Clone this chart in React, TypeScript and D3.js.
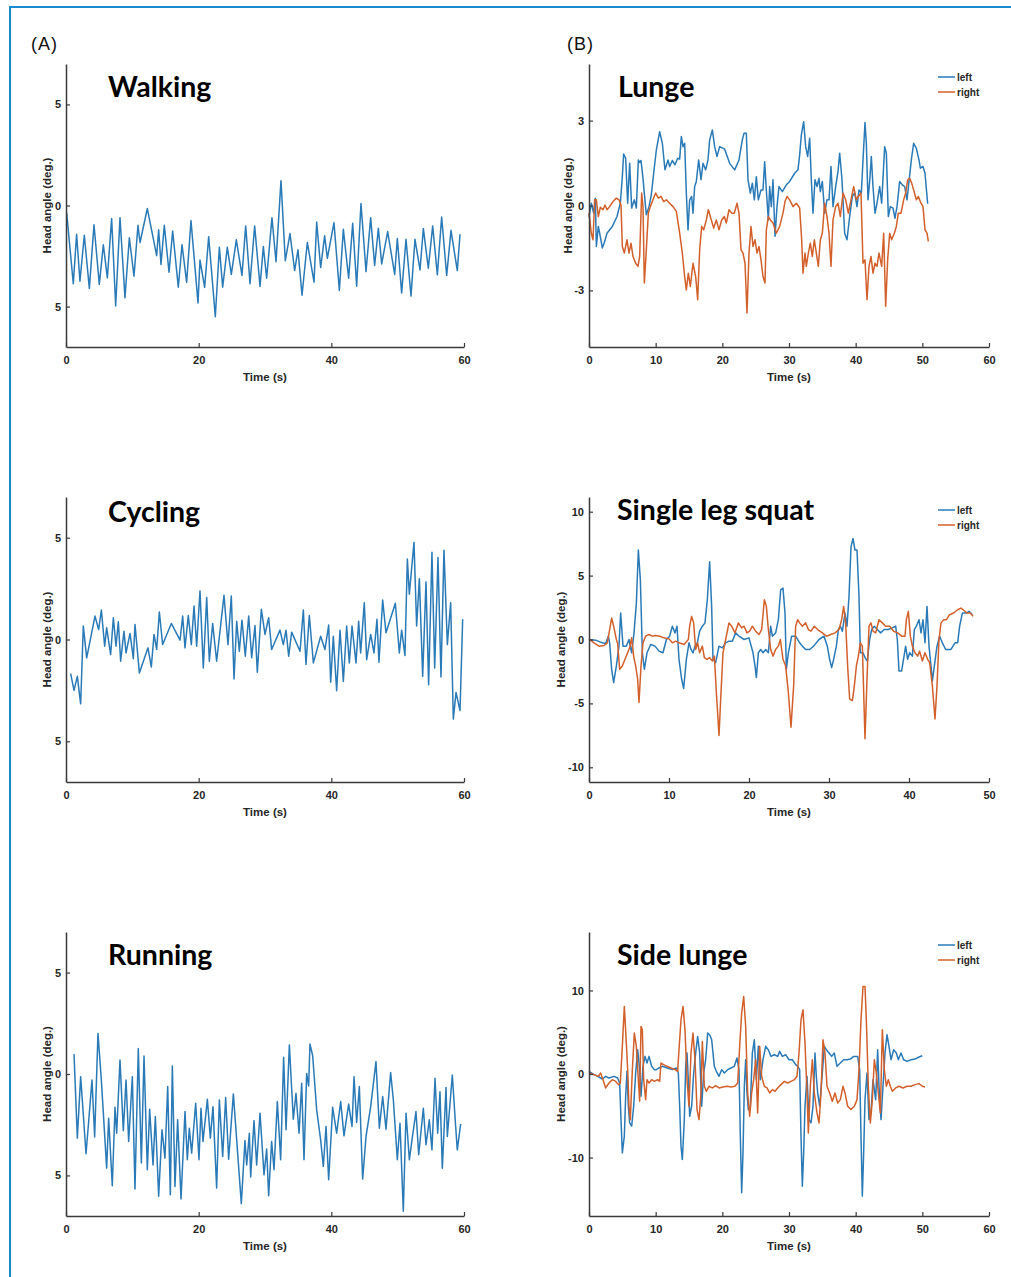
import React, { useEffect, useRef } from 'react';
import * as d3 from 'd3';

type Pt = [number, number];

// Head angle traces, [time (s), angle (deg.)]
const walking: Pt[] = [
  [0.1, -0.36], [1.1, -3.87], [1.6, -1.42], [2.1, -3.75], [2.76, -1.47], [3.52, -4.1], [4.22, -0.95], [5.02, -3.9],
  [5.63, -1.94], [6.23, -3.58], [6.88, -0.64], [7.49, -4.97], [8.14, -0.6], [8.89, -4.56], [9.55, -1.6], [10.25, -3.5],
  [10.85, -0.98], [11.16, -1.83], [12.26, -0.15], [13.67, -2.48], [13.97, -1.2], [14.32, -2.92], [14.82, -0.98],
  [15.53, -3.3], [16.08, -1.26], [16.93, -4.04], [17.49, -1.94], [18.19, -3.8], [18.84, -0.74], [19.9, -4.82],
  [20.2, -2.7], [20.9, -4.05], [21.51, -1.54], [22.51, -5.5], [23.12, -2.07], [23.62, -4.04], [24.32, -2.07],
  [24.92, -3.41], [25.68, -1.7], [26.53, -3.46], [27.09, -1.01], [27.74, -3.87], [28.44, -1.01], [29.25, -4.0],
  [29.75, -2.03], [30.25, -3.6], [31.05, -0.6], [31.66, -2.78], [32.41, 1.23], [33.06, -2.73], [33.77, -1.39],
  [34.47, -3.22], [34.97, -2.19], [35.58, -4.44], [36.38, -1.83], [37.39, -3.79], [37.79, -0.82], [38.39, -3.07],
  [38.99, -1.5], [39.4, -2.61], [40.4, -0.85], [41.21, -4.2], [41.81, -1.18], [42.61, -3.6], [43.22, -0.88],
  [43.82, -3.99], [44.47, 0.1], [45.23, -3.27], [45.93, -0.6], [46.53, -2.97], [47.09, -1.13], [47.59, -2.89],
  [48.49, -1.29], [49.55, -3.41], [49.95, -1.63], [50.6, -4.33], [51.26, -1.67], [52.01, -4.48], [52.61, -1.67],
  [53.37, -3.19], [53.87, -1.14], [54.62, -3.1], [55.28, -1.01], [55.98, -3.43], [56.63, -0.57], [57.39, -3.46],
  [58.04, -1.23], [58.99, -3.22], [59.4, -1.42],
];

const cycling: Pt[] = [
  [0.7, -1.68], [1.21, -2.5], [1.71, -1.81], [2.21, -3.16], [2.61, 0.66], [3.12, -0.9], [4.37, 1.15], [4.92, 0.49],
  [5.33, 1.45], [5.83, -0.33], [6.13, 0.58], [6.73, -0.74], [7.14, 1.07], [7.54, -0.33], [7.89, 0.87], [8.24, -1.07],
  [8.74, 0.41], [9.05, -0.66], [9.65, 0.3], [10.15, -0.94], [10.4, 0.74], [11.06, -1.64], [12.36, -0.41],
  [12.86, -1.35], [13.27, 0.25], [13.67, -0.49], [14.07, 1.35], [14.57, -0.25], [15.88, 0.79], [17.19, -0.03],
  [17.59, 1.15], [17.94, -0.41], [18.44, 1.18], [18.89, -0.25], [19.3, 1.64], [19.7, -0.33], [20.2, 2.38],
  [20.7, -1.4], [21.21, 2.06], [21.61, -1.07], [22.11, 0.79], [22.71, -1.07], [23.82, 2.17], [24.42, -0.25],
  [24.92, 2.14], [25.33, -1.94], [25.73, 0.9], [26.13, -0.58], [26.53, 0.95], [27.03, -0.82], [27.54, 1.15],
  [27.99, -0.9], [28.49, 0.69], [28.84, -1.61], [29.45, 1.48], [30.0, 0.25], [30.55, 1.07], [31.0, -0.49],
  [32.26, 0.46], [32.76, -0.25], [33.17, 0.46], [33.57, -0.82], [34.02, 0.36], [35.28, -0.58], [35.78, 1.45],
  [36.18, -1.23], [36.68, 1.18], [37.29, -1.15], [38.39, 0.16], [39.04, -0.49], [39.6, 0.71], [39.9, -2.1],
  [40.3, 0.16], [40.8, -2.52], [41.31, 0.46], [41.81, -2.06], [42.31, 0.66], [42.71, -1.15], [43.12, 0.66],
  [43.72, -1.15], [44.12, 0.9], [44.42, -0.66], [44.97, 1.81], [45.33, -0.99], [45.93, 0.25], [46.43, -0.66],
  [46.88, 0.99], [47.18, -1.12], [47.74, 1.94], [48.24, 0.33], [49.65, 1.78], [50.25, -0.66], [50.6, 0.46],
  [51.1, -0.79], [51.46, 3.95], [51.76, 2.22], [52.46, 4.77], [52.86, 0.66], [53.27, 2.99], [53.77, -1.81],
  [54.27, 2.83], [54.67, -2.22], [55.17, 4.28], [55.58, -1.4], [56.08, 4.03], [56.53, -1.84], [56.98, 4.39],
  [57.49, -0.25], [57.99, 1.81], [58.39, -3.91], [58.8, -2.6], [59.4, -3.49], [59.8, 0.99],
];

const running: Pt[] = [
  [1.21, 0.98], [1.71, -3.16], [2.21, -0.13], [3.02, -3.93], [3.92, -0.3], [4.32, -3.11], [4.82, 2.0], [5.33, -0.3],
  [6.13, -4.64], [6.43, -2.18], [6.98, -5.51], [7.39, -1.64], [7.64, -2.92], [8.14, 0.69], [8.64, -2.79],
  [9.05, -0.3], [9.45, -3.33], [10.0, -0.13], [10.4, -5.67], [10.9, 1.26], [11.36, -4.39], [11.76, 0.89],
  [12.26, -4.72], [12.61, -1.74], [13.12, -4.48], [13.47, -2.1], [13.97, -6.03], [14.47, -2.75], [14.92, -4.15],
  [15.33, -0.62], [15.73, -5.95], [16.03, 0.39], [16.43, -5.54], [16.83, -2.26], [17.34, -6.16], [17.94, -1.85],
  [18.29, -4.23], [18.59, -2.67], [18.94, -3.9], [19.55, -1.44], [20.05, -4.23], [20.35, -1.69], [20.65, -3.33],
  [21.31, -1.25], [21.76, -3.16], [22.16, -1.61], [22.71, -5.62], [23.12, -1.28], [23.62, -4.07], [24.07, -1.16],
  [24.52, -4.2], [25.23, -0.98], [26.43, -6.39], [26.98, -3.28], [27.24, -4.48], [27.64, -2.92], [27.84, -5.08],
  [28.34, -2.3], [28.74, -4.48], [29.25, -1.93], [29.85, -4.97], [30.25, -3.7], [30.55, -6.0], [31.0, -3.33],
  [31.36, -4.72], [31.86, -1.36], [32.36, -4.23], [32.81, 0.82], [33.17, -2.75], [33.67, 1.43], [34.27, -2.23],
  [34.67, -0.95], [35.13, -2.92], [35.53, -0.46], [35.88, -4.23], [36.28, 0.03], [36.58, -0.59], [36.78, 1.48],
  [37.19, 0.89], [37.79, -1.77], [38.39, -3.25], [38.79, -4.56], [39.2, -2.59], [39.6, -5.21], [40.2, -1.64],
  [40.8, -2.92], [41.41, -1.36], [41.91, -3.05], [42.61, -1.48], [43.12, -2.59], [43.42, -0.13], [43.82, -2.39],
  [44.22, -0.62], [44.72, -5.18], [45.23, -3.08], [45.93, -1.61], [46.73, 0.61], [47.24, -2.67], [47.74, -1.11],
  [48.24, -2.72], [48.94, 0.07], [49.35, -1.28], [49.95, -4.23], [50.35, -2.43], [50.85, -6.77], [51.26, -1.93],
  [51.76, -4.23], [52.16, -3.25], [52.76, -1.85], [53.17, -3.98], [53.87, -1.69], [54.27, -3.49], [54.77, -2.26],
  [55.17, -3.74], [55.63, -0.21], [56.03, -2.92], [56.38, -0.87], [56.73, -4.64], [57.29, -0.66], [57.49, -3.08],
  [58.24, -0.05], [58.69, -2.34], [58.99, -3.74], [59.5, -2.46],
];

const lungeLeft: Pt[] = [
  [0, -0.39], [0.35, 0.08], [0.7, -0.27], [0.95, 0.26], [1.1, -1.45], [1.4, -0.74], [1.6, -0.98], [2.0, -1.5],
  [2.35, -1.27], [2.7, -0.98], [3.5, -0.74], [4.2, -0.39], [4.7, 0.08], [5.0, 1.02], [5.2, 1.82], [5.5, 1.67],
  [5.8, 0.08], [6.1, 1.49], [6.4, -0.09], [6.8, 0.2], [7.1, -0.09], [7.4, 1.61], [7.6, 1.52], [7.8, 1.59],
  [8.1, 0.96], [8.25, 0.55], [8.6, -0.33], [9.0, -0.04], [9.35, 0.38], [9.7, 1.14], [10.1, 1.96], [10.6, 2.61],
  [11.0, 2.2], [11.4, 1.26], [11.85, 1.61], [12.1, 1.38], [12.5, 1.59], [12.9, 1.44], [13.3, 1.67], [13.6, 1.64],
  [13.85, 2.44], [14.1, 2.08], [14.35, 2.2], [14.6, 0.44], [14.85, -0.86], [15.1, 0.2], [15.4, 0.32], [15.6, -0.27],
  [15.85, 0.67], [16.1, 0.85], [16.45, 1.61], [16.8, 0.91], [17.1, 1.49], [17.5, 1.26], [17.85, 1.61], [18.1, 2.32],
  [18.5, 2.67], [18.85, 2.08], [19.2, 1.73], [19.6, 2.08], [20.35, 1.99], [21.1, 1.49], [21.85, 1.26], [22.5, 1.61],
  [23.0, 2.32], [23.25, 2.55], [23.6, 2.55], [23.85, 0.91], [24.2, 0.44], [24.5, 0.79], [24.8, 0.2], [25.1, 1.02],
  [25.4, 0.2], [25.8, 0.55], [26.1, 0.55], [26.35, 1.55], [26.6, 0.55], [26.9, -0.51], [27.1, 0.67], [27.35, -0.04],
  [27.6, 0.91], [27.9, -1.09], [28.2, -0.04], [28.5, 0.67], [29.0, 0.49], [29.6, 0.73], [30.1, 0.85], [30.85, 1.14],
  [31.35, 1.26], [31.6, 1.79], [31.85, 2.49], [32.2, 2.96], [32.5, 2.08], [32.8, 1.73], [33.1, 2.38], [33.35, 0.91],
  [33.6, -0.27], [33.9, 0.91], [34.2, 0.67], [34.5, 0.96], [34.7, 0.49], [35.0, 0.85], [35.35, -0.27], [35.7, 0.2],
  [36.0, 0.2], [36.3, 1.38], [36.6, -0.04], [37.0, 0.67], [37.35, 1.2], [37.6, 1.85], [37.95, 0.91], [38.35, -0.98],
  [38.7, -1.21], [39.1, -0.39], [39.5, 0.32], [39.85, 0.44], [40.2, -0.04], [40.5, 0.55], [40.85, 0.44], [41.1, 1.61],
  [41.4, 2.93], [41.6, 2.2], [41.85, 0.2], [42.1, 0.85], [42.35, 1.73], [42.6, 0.67], [42.9, -0.27], [43.2, 0.08],
  [43.6, 0.67], [43.9, 0.08], [44.35, 2.08], [44.6, 1.85], [44.9, -0.39], [45.2, -0.04], [45.6, -0.09], [45.9, -0.45],
  [46.2, -0.04], [46.6, 0.85], [47.0, 0.73], [47.35, 0.67], [47.7, 0.2], [48.0, 0.85], [48.35, 1.61], [48.7, 2.2],
  [49.1, 2.02], [49.5, 1.61], [49.7, 1.32], [50.1, 1.38], [50.4, 1.14], [50.8, 0.06],
];

const lungeRight: Pt[] = [
  [0, -0.27], [0.35, -0.98], [0.6, -1.21], [0.85, 0.2], [1.1, 0.2], [1.4, -0.39], [1.7, -0.06], [2.1, -0.15],
  [2.4, 0.02], [2.7, -0.15], [3.1, -0.04], [3.6, 0.14], [4.1, 0.26], [4.5, 0.2], [4.8, 0.02], [5.0, -1.45],
  [5.3, -1.68], [5.7, -1.21], [6.0, -1.68], [6.3, -1.33], [6.6, -1.8], [7.0, -2.04], [7.35, -2.15], [7.6, -1.8],
  [7.9, 0.44], [8.1, -0.04], [8.3, -2.74], [8.6, -1.56], [8.9, -0.27], [9.2, -0.04], [9.6, 0.2], [10.0, 0.44],
  [10.4, 0.26], [10.8, 0.32], [11.2, 0.14], [11.6, 0.2], [12.1, 0.08], [12.6, -0.04], [13.1, -0.21], [13.6, -0.98],
  [14.0, -1.68], [14.35, -2.51], [14.6, -2.98], [14.9, -2.39], [15.2, -2.86], [15.6, -2.04], [16.0, -2.51],
  [16.3, -3.33], [16.6, -1.56], [16.9, -0.74], [17.2, -0.86], [17.6, -0.51], [17.9, -0.15], [18.35, -0.51],
  [18.7, -0.8], [19.1, -0.51], [19.5, -0.86], [19.9, -0.51], [20.3, -0.39], [20.6, -0.62], [21.0, -0.15],
  [21.4, -0.27], [21.8, -0.27], [22.2, 0.08], [22.5, -0.27], [22.8, -1.56], [23.1, -1.68], [23.4, -2.04],
  [23.7, -3.8], [24.0, -1.68], [24.3, -0.74], [24.6, -1.45], [24.9, -1.21], [25.2, -1.68], [25.5, -1.45],
  [25.8, -1.92], [26.1, -2.51], [26.4, -2.74], [26.6, -0.86], [26.9, -0.39], [27.2, -0.51], [27.6, -0.62],
  [28.1, -0.98], [28.6, -0.74], [29.1, -0.27], [29.4, 0.14], [29.7, 0.32], [30.1, 0.2], [30.6, -0.04], [31.1, 0.08],
  [31.6, -0.09], [31.9, -1.21], [32.1, -2.39], [32.4, -1.68], [32.6, -2.15], [32.9, -1.68], [33.2, -1.33],
  [33.5, -1.8], [33.8, -1.21], [34.1, -1.68], [34.4, -2.15], [34.7, -1.21], [35.0, -0.98], [35.35, 0.08],
  [35.7, -0.39], [36.0, -0.98], [36.3, -2.15], [36.6, -0.51], [37.0, -0.04], [37.35, 0.08], [37.7, -0.39],
  [38.1, 0.44], [38.5, 0.2], [38.9, -0.27], [39.3, 0.2], [39.7, 0.67], [40.1, 0.2], [40.4, 0.32], [40.8, 0.44],
  [41.1, -2.04], [41.4, -1.92], [41.7, -3.33], [42.0, -2.15], [42.3, -1.8], [42.6, -2.39], [42.9, -2.04],
  [43.2, -2.15], [43.5, -1.68], [43.9, -2.15], [44.2, -0.98], [44.5, -3.56], [44.8, -1.92], [45.1, -0.98],
  [45.4, -1.21], [45.8, -0.98], [46.1, -0.74], [46.4, -0.27], [46.8, -0.27], [47.2, 0.2], [47.5, 0.44],
  [47.8, 0.91], [48.1, 0.96], [48.4, 0.79], [48.7, 0.55], [49.1, 0.2], [49.4, 0.32], [49.8, 0.08], [50.1, -0.04],
  [50.4, -0.86], [50.7, -0.98], [50.9, -1.27],
];

const squatLeft: Pt[] = [
  [0, 0], [0.83, -0.05], [1.67, -0.26], [2.08, -0.31], [2.42, 0.26], [2.58, -0.26], [2.83, -2.33], [3.08, -3.37],
  [3.42, -2.07], [3.75, -0.52], [3.96, 2.07], [4.25, -0.52], [4.67, -0.52], [5.0, 0], [5.33, -1.04], [5.63, 0.52],
  [5.92, 2.85], [6.17, 7.0], [6.42, 4.66], [6.67, -1.04], [6.92, -2.33], [7.25, -1.04], [7.71, -0.39], [8.25, -0.52],
  [8.75, -0.91], [9.25, -1.04], [9.67, 0], [10.08, 0.26], [10.42, 1.04], [10.75, 0.52], [11.0, 1.04], [11.25, -1.55],
  [11.58, -3.11], [11.83, -3.83], [12.17, -1.55], [12.5, -0.26], [12.75, -0.78], [13.0, -1.04], [13.25, -0.52],
  [13.54, -0.26], [13.83, 0.65], [14.17, 1.04], [14.5, 1.3], [14.79, 3.11], [15.08, 6.09], [15.33, 2.59],
  [15.5, -1.55], [15.83, -1.81], [16.25, -0.52], [16.67, -0.65], [17.08, -0.26], [17.5, -0.13], [17.92, -0.13],
  [18.33, 0.52], [18.75, 0.26], [19.38, 0], [20.0, 0.13], [20.5, -1.04], [20.75, -2.07], [20.92, -2.98],
  [21.17, -1.04], [21.46, -0.78], [21.75, -1.04], [22.08, -0.78], [22.42, -1.04], [22.71, 1.04], [22.92, 0.26],
  [23.33, 0.52], [23.67, 1.55], [23.96, 3.89], [24.25, 4.02], [24.5, 2.07], [24.67, -2.33], [24.92, -1.04],
  [25.33, 0.26], [25.83, 0.26], [26.33, -0.26], [26.67, -0.52], [27.08, -0.78], [27.58, -0.78], [28.08, -0.52],
  [28.75, 0], [29.38, 0.26], [29.79, -0.52], [30.08, -1.55], [30.33, -2.2], [30.58, -1.55], [30.92, -0.52],
  [31.17, 0.78], [31.42, 1.04], [31.67, 0.65], [32.0, 2.07], [32.25, 1.04], [32.5, 3.37], [32.75, 7.25], [33.0, 7.9],
  [33.25, 7.0], [33.5, 7.0], [33.75, 3.37], [33.92, -1.04], [34.25, -1.04], [34.5, -1.42], [34.79, -1.68],
  [35.08, 0], [35.33, 0.78], [35.67, 1.04], [36.04, 0.78], [36.46, 0.52], [36.88, 0.78], [37.42, 0.78],
  [37.92, 0.91], [38.33, 1.04], [38.54, 0], [38.75, -2.46], [39.08, -2.46], [39.38, -1.3], [39.58, -0.52],
  [39.83, -1.55], [40.08, -1.04], [40.42, -1.3], [40.67, 0.78], [40.92, 1.04], [41.25, 1.55], [41.5, 0.52],
  [41.75, 1.55], [42.0, -0.26], [42.25, 2.59], [42.5, -0.52], [42.75, -2.07], [42.92, -3.24], [43.17, -2.07],
  [43.5, -0.52], [43.83, 0.26], [44.17, -0.26], [44.58, -0.78], [45.25, -0.78], [45.75, -0.26], [46.08, -0.26],
  [46.33, 1.04], [46.67, 2.07], [47.17, 2.07], [47.5, 2.2], [47.92, 1.94],
];

const squatRight: Pt[] = [
  [0, 0.05], [0.63, -0.26], [1.25, -0.52], [1.88, -0.47], [2.29, -0.26], [2.58, 0.78], [2.83, 1.68], [3.08, 1.04],
  [3.42, 0], [3.58, -0.31], [3.83, -2.33], [4.17, -2.07], [4.5, -1.55], [4.83, -1.04], [5.08, -0.65], [5.33, 0.13],
  [5.58, -1.3], [5.83, -2.07], [6.08, -3.11], [6.25, -4.92], [6.5, -2.07], [6.75, -0.26], [7.08, 0.26], [7.5, 0.39],
  [7.92, 0.26], [8.33, 0.31], [8.83, 0.26], [9.38, 0.13], [10.0, 0.05], [10.42, -0.26], [10.83, -0.13],
  [11.25, -0.26], [11.88, -0.39], [12.42, 0], [12.58, 1.04], [12.83, 1.81], [13.08, 1.3], [13.33, -0.78],
  [13.58, -0.26], [13.83, -1.04], [14.17, -0.52], [14.42, -1.42], [14.75, -1.55], [15.08, -1.42], [15.42, -1.68],
  [15.67, -1.3], [15.92, -4.15], [16.25, -7.51], [16.5, -4.15], [16.75, -1.04], [17.08, 0], [17.5, 1.3],
  [17.83, 1.04], [18.25, 0.52], [18.67, 1.3], [19.08, 0.91], [19.38, 1.04], [19.75, 0.52], [20.08, 0.65],
  [20.42, 1.04], [20.83, 0.65], [21.25, 0.39], [21.58, 0.78], [21.92, 3.11], [22.17, 2.59], [22.42, 0.78],
  [22.71, -0.78], [23.0, -1.3], [23.33, -0.78], [23.67, -0.52], [23.92, 0], [24.25, -1.55], [24.58, -2.07],
  [24.92, -4.15], [25.25, -6.87], [25.58, -3.63], [25.83, 1.04], [26.08, 1.55], [26.33, 1.3], [26.67, 1.04],
  [27.08, 1.3], [27.42, 0.78], [27.75, 0.65], [28.17, 1.04], [28.58, 0.78], [29.17, 0.52], [29.67, 0.26],
  [30.21, 0.39], [30.75, 0.52], [31.25, 0.78], [31.58, 1.55], [31.83, 2.59], [32.08, 1.3], [32.33, -2.07],
  [32.58, -4.66], [32.92, -4.79], [33.17, -3.63], [33.42, -2.07], [33.67, -1.3], [33.92, -0.26], [34.17, -0.52],
  [34.5, -7.77], [34.75, -3.11], [35.0, 1.04], [35.25, 1.3], [35.5, 0.65], [35.83, 0.52], [36.25, 1.55],
  [36.67, 1.3], [37.08, 1.04], [37.58, 1.04], [38.08, 0.65], [38.58, 0.52], [39.08, 0.26], [39.5, 0.26],
  [39.67, 1.55], [39.92, 2.2], [40.17, 0.26], [40.42, -0.52], [40.75, -1.04], [41.08, -1.3], [41.33, -0.91],
  [41.67, -1.68], [42.0, -1.04], [42.33, -1.55], [42.58, -1.81], [42.92, -3.63], [43.25, -6.22], [43.5, -3.63],
  [43.75, 0], [44.0, 1.3], [44.33, 1.55], [44.67, 1.55], [45.08, 1.94], [45.58, 2.07], [46.08, 2.33], [46.5, 2.46],
  [46.92, 2.25], [47.25, 2.07], [47.67, 2.07], [48.0, 1.81],
];

const sideLeft: Pt[] = [
  [0, 0.32], [0.75, -0.08], [1.5, -0.36], [2.0, -0.6], [2.5, -0.28], [3.0, -0.48], [3.75, -0.28], [4.3, -0.48],
  [4.6, -1.08], [4.8, -5.46], [5.0, -9.44], [5.3, -7.45], [5.5, -2.67], [5.7, 0.32], [5.9, -3.86], [6.1, -5.86],
  [6.4, -6.25], [6.7, -3.86], [7.0, 0.12], [7.3, 2.91], [7.6, 0.52], [7.8, -2.67], [8.1, 0.92], [8.4, 2.11],
  [8.7, 1.31], [9.0, 2.11], [9.4, 0.92], [9.8, 0.52], [10.1, 0.52], [10.5, 0.72], [11.0, 0.92], [11.75, 0.72],
  [12.5, 0.52], [13.1, 0.72], [13.4, 0.12], [13.6, -3.86], [13.8, -8.65], [14.0, -10.24], [14.3, -5.46],
  [14.5, 0.92], [14.7, 2.51], [14.9, -0.68], [15.1, -5.06], [15.4, -3.86], [15.7, 0.12], [16.0, 2.51], [16.3, 4.5],
  [16.6, 2.51], [16.9, -3.86], [17.2, 0.12], [17.5, 1.71], [17.8, 4.9], [18.1, 4.7], [18.4, 4.1], [18.8, 0.92],
  [19.1, 0.32], [19.5, -0.28], [19.9, 0.52], [20.3, 0.12], [20.8, 0.52], [21.3, 0.72], [21.8, 0.92], [22.2, 1.91],
  [22.5, 0.52], [22.7, -7.45], [22.9, -14.22], [23.1, -9.44], [23.3, -1.47], [23.5, 1.71], [23.7, -2.27],
  [23.9, -4.26], [24.2, -3.86], [24.5, 2.51], [24.8, 4.1], [25.1, -0.68], [25.4, 3.31], [25.7, -0.68], [26.1, 1.71],
  [26.5, 3.31], [26.9, 2.91], [27.3, 2.11], [27.8, 2.31], [28.3, 2.11], [28.6, 2.71], [29.0, 2.11], [29.5, 2.31],
  [30.0, 1.71], [30.5, 1.71], [31.0, 1.12], [31.3, 0.92], [31.6, 0.52], [31.8, -7.45], [32.0, -13.43],
  [32.2, -9.44], [32.4, -3.86], [32.7, -0.28], [33.0, -5.46], [33.3, -5.86], [33.6, -3.86], [33.9, 2.51],
  [34.1, -0.28], [34.3, -2.27], [34.6, -3.86], [35.0, 0.12], [35.3, 3.31], [35.6, 2.91], [36.0, 2.51], [36.4, 2.11],
  [36.8, 2.51], [37.2, 0.92], [37.7, 1.31], [38.2, 1.71], [38.7, 1.71], [39.2, 1.79], [39.7, 2.11], [40.3, 2.11],
  [40.6, 0.52], [40.8, -7.45], [41.0, -14.62], [41.2, -9.44], [41.4, -3.07], [41.7, 0.12], [42.0, -5.46],
  [42.3, -4.66], [42.6, -0.68], [43.0, -3.07], [43.3, 2.91], [43.5, -1.47], [43.8, -5.46], [44.1, -1.47],
  [44.4, 2.51], [44.7, 4.7], [45.0, 3.31], [45.3, 1.71], [45.7, 2.91], [46.1, 2.51], [46.4, 1.71], [46.8, 2.51],
  [47.2, 1.71], [47.7, 1.51], [48.3, 1.71], [48.9, 1.79], [49.5, 2.03], [50.0, 2.19],
];

const sideRight: Pt[] = [
  [0, 0.12], [0.75, -0.08], [1.4, -0.28], [1.75, 0.12], [2.1, -0.68], [2.5, -1.67], [3.0, -1.08], [3.5, -0.68],
  [4.0, -0.88], [4.4, -1.27], [4.7, -1.08], [5.0, 3.31], [5.3, 8.09], [5.6, 3.7], [5.8, 0.52], [6.0, -3.86],
  [6.2, -5.46], [6.5, 0.52], [6.8, 4.9], [7.1, 3.31], [7.4, -0.68], [7.6, -3.27], [7.8, 5.7], [8.0, 5.3],
  [8.2, -0.68], [8.5, -3.07], [8.7, -0.68], [9.0, -1.08], [9.4, -0.68], [9.8, -0.88], [10.3, -0.68], [10.6, -0.88],
  [10.8, 1.31], [11.2, 1.12], [11.7, 0.92], [12.3, 0.72], [12.9, 0.52], [13.3, 0.32], [13.5, 2.91], [13.8, 6.49],
  [14.1, 8.09], [14.4, 5.3], [14.7, -0.68], [15.0, -3.86], [15.3, 2.51], [15.6, 4.9], [15.9, 1.71], [16.2, -4.26],
  [16.5, -5.46], [16.8, -2.27], [17.0, 3.9], [17.3, -1.47], [17.6, -2.07], [18.0, -1.47], [18.5, -1.67],
  [19.0, -1.39], [19.5, -1.67], [20.1, -1.55], [20.7, -1.47], [21.3, -1.55], [21.9, -1.47], [22.3, -1.08],
  [22.6, 3.31], [22.9, 7.29], [23.2, 9.28], [23.5, 5.7], [23.8, -2.27], [24.1, -5.06], [24.4, -2.27], [24.7, -0.68],
  [25.0, 1.71], [25.3, -4.66], [25.6, 3.31], [25.9, -0.28], [26.3, -1.47], [26.7, -1.67], [27.1, -2.27],
  [27.5, -1.87], [27.9, -2.07], [28.3, -1.67], [28.8, -1.27], [29.3, -0.88], [29.8, -1.08], [30.3, -0.88],
  [30.8, -0.68], [31.2, -0.28], [31.5, 2.51], [31.8, 6.49], [32.1, 7.69], [32.4, 3.7], [32.7, -2.27], [32.9, -7.05],
  [33.2, -1.47], [33.5, 1.71], [33.8, -2.27], [34.2, -4.66], [34.5, -5.86], [34.8, -2.27], [35.1, 4.1],
  [35.4, 2.51], [35.7, -1.47], [36.1, -2.27], [36.5, -3.27], [36.9, -2.27], [37.3, -3.47], [37.7, -3.07],
  [38.1, -1.47], [38.4, -2.27], [38.8, -3.86], [39.3, -4.26], [39.8, -3.86], [40.2, -3.07], [40.5, 0.52],
  [40.8, 6.49], [41.1, 10.48], [41.4, 10.48], [41.6, 6.49], [41.9, -1.47], [42.2, -5.86], [42.5, -3.07],
  [42.8, 1.71], [43.1, 0.12], [43.4, -2.27], [43.7, -4.66], [44.0, 5.3], [44.3, 0.52], [44.6, -1.47], [44.9, -0.68],
  [45.2, -1.47], [45.5, -2.07], [46.0, -1.67], [46.5, -1.47], [47.1, -1.67], [47.7, -1.47], [48.3, -1.47],
  [48.9, -1.27], [49.5, -1.15], [50.0, -1.47], [50.4, -1.55],
];

const titles = ['Walking', 'Lunge', 'Cycling', 'Single leg squat', 'Running', 'Side lunge'];
const seriesNames = ['left', 'right'];
const panelLetters = ['(A)', '(B)'];
const leftYTicks = [-5, 0, 5];
const leftXTicks = [0, 20, 40, 60];
const lungeYTicks = [-3, 0, 3];
const squatYTicks = [-10, -5, 0, 5, 10];
const sideYTicks = [-10, 0, 10];
const xTicks10 = [0, 10, 20, 30, 40, 50, 60];
const squatXTicks = [0, 10, 20, 30, 40, 50];

const BLUE = '#2a7ab8';
const ORANGE = '#d3602b';
const AXIS = '#3a3a3a';
const TEXT = '#262626';
const FRAME = '#1b8bd1';

const cols = [{ x0: 66, x1: 464 }, { x0: 589, x1: 989 }];
const rows = [{ top: 64, bottom: 347 }, { top: 497, bottom: 782 }, { top: 932, bottom: 1216 }];

const panels = [
  { title: titles[0], col: 0, row: 0, tx: 108, ty: 97, yDom: [-7, 7], yTicks: leftYTicks, xMax: 60, xTicks: leftXTicks, series: [walking], yLabX: 51 },
  { title: titles[1], col: 1, row: 0, tx: 618, ty: 97, yDom: [-5, 5], yTicks: lungeYTicks, xMax: 60, xTicks: xTicks10, series: [lungeLeft, lungeRight], yLabX: 572 },
  { title: titles[2], col: 0, row: 1, tx: 108, ty: 522, yDom: [-7, 7], yTicks: leftYTicks, xMax: 60, xTicks: leftXTicks, series: [cycling], yLabX: 51 },
  { title: titles[3], col: 1, row: 1, tx: 617, ty: 520, yDom: [-11.15, 11.15], yTicks: squatYTicks, xMax: 50, xTicks: squatXTicks, series: [squatLeft, squatRight], yLabX: 565 },
  { title: titles[4], col: 0, row: 2, tx: 108, ty: 965, yDom: [-7, 7], yTicks: leftYTicks, xMax: 60, xTicks: leftXTicks, series: [running], yLabX: 51 },
  { title: titles[5], col: 1, row: 2, tx: 617, ty: 965, yDom: [-17, 17], yTicks: sideYTicks, xMax: 60, xTicks: xTicks10, series: [sideLeft, sideRight], yLabX: 565 },
];

const App = () => {
  const svgRef = useRef<SVGSVGElement>(null);

  useEffect(() => {
    if (!svgRef.current) return;
    const svg = d3.select(svgRef.current);
    svg.selectAll('*').remove();

    // figure frame (top and left edges only are visible)
    svg.append('line').attr('x1', 10).attr('x2', 1011).attr('y1', 7).attr('y2', 7)
      .attr('stroke', FRAME).attr('stroke-width', 2);
    svg.append('line').attr('x1', 10).attr('x2', 10).attr('y1', 6).attr('y2', 1277)
      .attr('stroke', FRAME).attr('stroke-width', 2);

    panelLetters.forEach((lab, i) => {
      svg.append('text')
        .attr('x', i === 0 ? 31 : 567)
        .attr('y', 50)
        .style('font-family', 'Arial, "Liberation Sans", sans-serif')
        .style('font-size', '18px')
        .style('letter-spacing', '1px')
        .style('fill', '#111')
        .text(lab);
    });

    panels.forEach(p => {
      const { x0, x1 } = cols[p.col];
      const { top, bottom } = rows[p.row];
      const x = d3.scaleLinear().domain([0, p.xMax]).range([x0, x1]);
      const y = d3.scaleLinear().domain(p.yDom).range([bottom, top]);
      const left = p.col === 0;
      const g = svg.append('g');

      // traces
      const line = d3.line<Pt>().x(d => x(d[0])).y(d => y(d[1]));
      p.series.forEach((s, i) => {
        g.append('path')
          .datum(s)
          .attr('fill', 'none')
          .attr('stroke', i === 0 ? BLUE : ORANGE)
          .attr('stroke-width', 1.5)
          .attr('stroke-linejoin', 'round')
          .attr('d', line);
      });

      // axes, MATLAB style inward ticks
      const yAxis = g.append('g')
        .attr('transform', `translate(${x0},0)`)
        .call(d3.axisLeft(y).tickValues(p.yTicks).tickSize(-4).tickSizeOuter(0).tickPadding(5)
          .tickFormat(d => left ? String(Math.abs(+d)) : String(d)));
      const xAxis = g.append('g')
        .attr('transform', `translate(0,${bottom})`)
        .call(d3.axisBottom(x).tickValues(p.xTicks).tickSize(-4).tickSizeOuter(0).tickPadding(9));
      [yAxis, xAxis].forEach(a => {
        a.select('.domain').attr('stroke', AXIS).attr('stroke-width', 1.5);
        a.selectAll('.tick line').attr('stroke', AXIS).attr('stroke-width', 1.2);
        a.selectAll('.tick text')
          .style('font-family', 'Arial, "Liberation Sans", sans-serif')
          .style('font-size', '11px')
          .style('font-weight', 'bold')
          .style('fill', TEXT);
      });

      // axis labels
      g.append('text')
        .attr('text-anchor', 'middle')
        .attr('x', (x0 + x1) / 2)
        .attr('y', bottom + 34)
        .style('font-family', 'Arial, "Liberation Sans", sans-serif')
        .style('font-size', '11.5px')
        .style('font-weight', 'bold')
        .style('fill', TEXT)
        .text('Time (s)');
      g.append('text')
        .attr('text-anchor', 'middle')
        .attr('transform', `translate(${p.yLabX},${(top + bottom) / 2}) rotate(-90)`)
        .style('font-family', 'Arial, "Liberation Sans", sans-serif')
        .style('font-size', '11.5px')
        .style('font-weight', 'bold')
        .style('fill', TEXT)
        .text('Head angle (deg.)');

      // panel title
      g.append('text')
        .attr('x', p.tx)
        .attr('y', p.ty)
        .style('font-family', 'Lato, "Open Sans", sans-serif')
        .style('font-size', '28.5px')
        .style('font-weight', 'bold')
        .style('fill', '#000')
        .text(p.title);

      // legend for left/right traces
      if (p.series.length > 1) {
        seriesNames.forEach((name, i) => {
          const ly = top + 13 + i * 15;
          g.append('line')
            .attr('x1', x0 + 349).attr('x2', x0 + 366)
            .attr('y1', ly).attr('y2', ly)
            .attr('stroke', i === 0 ? BLUE : ORANGE)
            .attr('stroke-width', 1.5);
          g.append('text')
            .attr('x', x0 + 368)
            .attr('y', ly + 3.5)
            .style('font-family', 'Arial, "Liberation Sans", sans-serif')
            .style('font-size', '10px')
            .style('font-weight', 'bold')
            .style('fill', TEXT)
            .text(name);
        });
      }
    });
  }, []);

  return (
    <svg ref={svgRef} width={1011} height={1277}
      style={{ position: 'absolute', left: 0, top: 0, background: '#fff' }} />
  );
};

export default App;
